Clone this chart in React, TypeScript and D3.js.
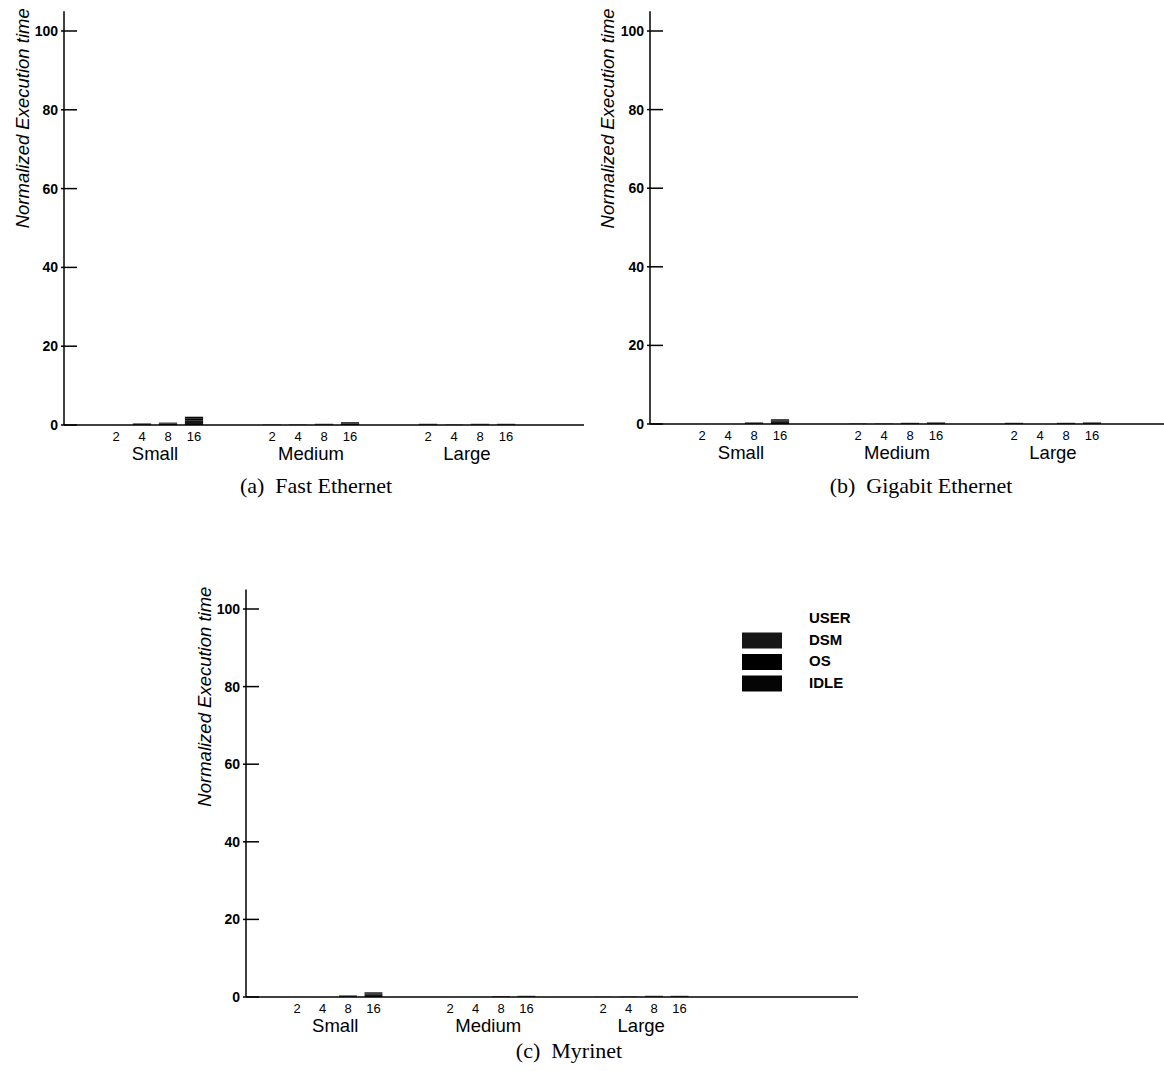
import React from "react";
import * as d3 from "d3";

const groups = ["Small", "Medium", "Large"];
const procs = ["2", "4", "8", "16"];
const seriesNames = ["USER", "DSM", "OS", "IDLE"];
const seriesColors = ["#ffffff", "#161616", "#000000", "#050505"];
const yTicks = [0, 20, 40, 60, 80, 100];

// values ordered Small(2,4,8,16), Medium(2,4,8,16), Large(2,4,8,16)
const fastUser = [0, 0, 0, 0, 0, 0, 0, 0, 0, 0, 0, 0];
const fastDsm = [0, 0.2, 0.3, 1.2, 0.05, 0.05, 0.15, 0.4, 0.15, 0.05, 0.15, 0.15];
const fastOs = [0, 0.1, 0.1, 0.4, 0.02, 0.02, 0.05, 0.1, 0.05, 0.02, 0.05, 0.05];
const fastIdle = [0, 0.1, 0.2, 0.5, 0.03, 0.03, 0.1, 0.2, 0.1, 0.03, 0.1, 0.1];

const gigaUser = [0, 0, 0, 0, 0, 0, 0, 0, 0, 0, 0, 0];
const gigaDsm = [0, 0, 0.2, 0.7, 0.05, 0.05, 0.15, 0.2, 0.15, 0, 0.15, 0.2];
const gigaOs = [0, 0, 0.1, 0.2, 0.02, 0.02, 0.05, 0.1, 0.05, 0, 0.05, 0.1];
const gigaIdle = [0, 0, 0.1, 0.3, 0.03, 0.03, 0.1, 0.1, 0.1, 0, 0.1, 0.1];

const myriUser = [0, 0, 0, 0, 0, 0, 0, 0, 0, 0, 0, 0];
const myriDsm = [0, 0, 0.2, 0.7, 0, 0, 0.1, 0.15, 0.03, 0.05, 0.15, 0.15];
const myriOs = [0, 0, 0.1, 0.2, 0, 0, 0.05, 0.05, 0.01, 0.02, 0.05, 0.05];
const myriIdle = [0, 0, 0.1, 0.3, 0, 0, 0.05, 0.1, 0.01, 0.03, 0.1, 0.1];

const captions = ["(a)  Fast Ethernet", "(b)  Gigabit Ethernet", "(c)  Myrinet"];

const SANS = "'Liberation Sans', Arial, Helvetica, sans-serif";
const SERIF = "'Liberation Serif', 'Times New Roman', serif";

type PanelLayout = {
  x0: number;
  step: number;
  kMax: number;
  y0: number;
  y100: number;
  titleX: number;
  captionX: number;
  captionY: number;
  legend: boolean;
};

const layouts: PanelLayout[] = [
  { x0: 64, step: 26, kMax: 20, y0: 425, y100: 31, titleX: 29, captionX: 316, captionY: 493, legend: false },
  { x0: 650, step: 26, kMax: 20, y0: 424, y100: 31, titleX: 614, captionX: 921, captionY: 493, legend: false },
  { x0: 246, step: 25.5, kMax: 24, y0: 997, y100: 609, titleX: 211, captionX: 569, captionY: 1058, legend: true },
];

const panelData = [
  [fastUser, fastDsm, fastOs, fastIdle],
  [gigaUser, gigaDsm, gigaOs, gigaIdle],
  [myriUser, myriDsm, myriOs, myriIdle],
];

function Panel({ layout, data, caption }: { layout: PanelLayout; data: number[][]; caption: string }) {
  const x = d3.scaleLinear().domain([0, layout.kMax]).range([layout.x0, layout.x0 + layout.step * layout.kMax]);
  const y = d3.scaleLinear().domain([0, 100]).range([layout.y0, layout.y100]);

  const rows = groups.flatMap((g, gi) =>
    procs.map((p, pi) => {
      const row: any = { group: g, proc: p, k: gi * 6 + 2 + pi };
      seriesNames.forEach((s, si) => {
        row[s] = data[si][gi * 4 + pi];
      });
      return row;
    })
  );
  const stacked = d3.stack<any>().keys(seriesNames)(rows);
  const barW = layout.step * 0.7;

  return (
    <g>
      {/* bars */}
      {stacked.map((layer, si) => (
        <g key={layer.key} fill={seriesColors[si]}>
          {layer.map((d, i) => {
            const h = y(d[0]) - y(d[1]);
            if (h <= 0 || seriesColors[si] === "#ffffff") return null;
            return (
              <rect key={i} x={x(d.data.k) - barW / 2} y={y(d[1])} width={barW} height={h} />
            );
          })}
        </g>
      ))}
      {/* y axis */}
      <line x1={layout.x0} x2={layout.x0} y1={y(0)} y2={y(105)} stroke="#000" strokeWidth={1.5} />
      {yTicks.map((t) => (
        <g key={t}>
          <line x1={layout.x0 - 3} x2={layout.x0 + 13} y1={y(t)} y2={y(t)} stroke="#000" strokeWidth={1.5} />
          <text x={layout.x0 - 6} y={y(t)} dy="0.36em" textAnchor="end" fontFamily={SANS} fontWeight="bold" fontSize={14}>
            {t}
          </text>
        </g>
      ))}
      {/* x axis */}
      <line x1={x(0)} x2={x(layout.kMax)} y1={y(0)} y2={y(0)} stroke="#000" strokeWidth={1.5} />
      {rows.map((r, i) => (
        <text key={i} x={x(r.k)} y={layout.y0 + 16} textAnchor="middle" fontFamily={SANS} fontSize={13}>
          {r.proc}
        </text>
      ))}
      {groups.map((g, gi) => (
        <text key={g} x={x(gi * 6 + 3.5)} y={layout.y0 + 35} textAnchor="middle" fontFamily={SANS} fontSize={18.5}>
          {g}
        </text>
      ))}
      {/* y title */}
      <text
        transform={`translate(${layout.titleX},${y(105) - 3}) rotate(-90)`}
        textAnchor="end"
        fontFamily={SANS}
        fontStyle="italic"
        fontSize={18.5}
      >
        Normalized Execution time
      </text>
      {/* caption */}
      <text x={layout.captionX} y={layout.captionY} textAnchor="middle" fontFamily={SERIF} fontSize={22} style={{ whiteSpace: "pre" }}>
        {caption}
      </text>
      {layout.legend && (
        <g>
          {seriesNames.map((s, si) => (
            <g key={s}>
              <rect x={742} y={611 + si * 21.5} width={40} height={16} fill={seriesColors[si]} />
              <text x={809} y={623 + si * 21.7} fontFamily={SANS} fontWeight="bold" fontSize={15}>
                {s}
              </text>
            </g>
          ))}
        </g>
      )}
    </g>
  );
}

export default function App() {
  return (
    <svg
      width={1164}
      height={1071}
      viewBox="0 0 1164 1071"
      style={{ position: "absolute", left: 0, top: 0, background: "#fff" }}
    >
      <rect x={0} y={0} width={1164} height={1071} fill="#fff" />
      {layouts.map((l, i) => (
        <Panel key={i} layout={l} data={panelData[i]} caption={captions[i]} />
      ))}
    </svg>
  );
}
